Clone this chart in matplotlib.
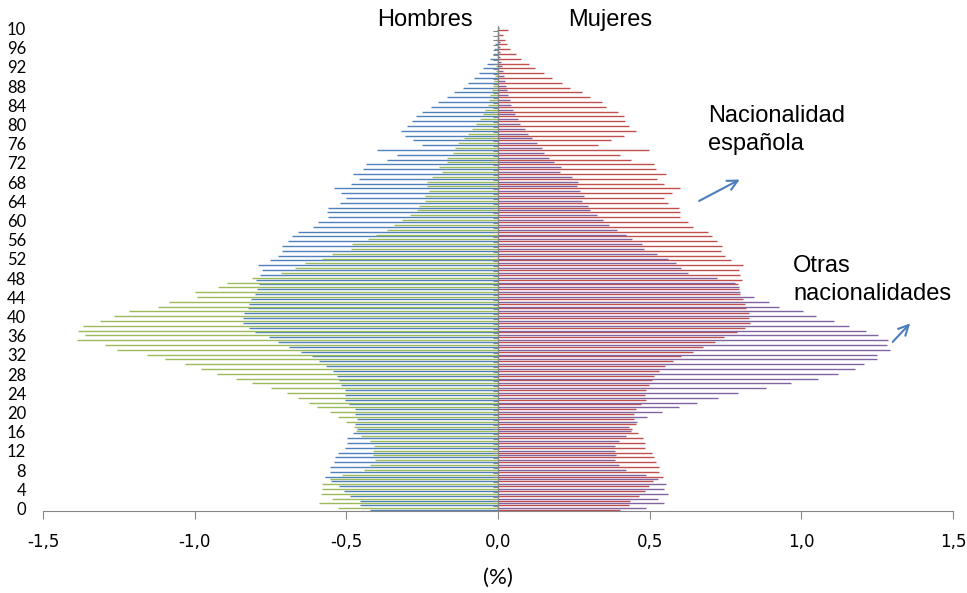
import numpy as np
import matplotlib
matplotlib.use("Agg")
import matplotlib.pyplot as plt

# edades 0..100
ages = np.arange(101)

# % de poblacion por edad
hombres_esp = np.array([
    0.422, 0.455, 0.455, 0.488, 0.508, 0.524, 0.550, 0.570, 0.554, 0.554,
    0.541, 0.537, 0.527, 0.506, 0.499, 0.499, 0.479, 0.466, 0.473, 0.466,
    0.470, 0.473, 0.492, 0.506, 0.503, 0.506, 0.516, 0.523, 0.530, 0.543,
    0.567, 0.590, 0.613, 0.649, 0.689, 0.725, 0.755, 0.801, 0.821, 0.841,
    0.841, 0.838, 0.824, 0.821, 0.815, 0.801, 0.795, 0.788, 0.798, 0.784,
    0.777, 0.791, 0.752, 0.725, 0.712, 0.712, 0.692, 0.679, 0.659, 0.610,
    0.593, 0.560, 0.564, 0.560, 0.521, 0.501, 0.518, 0.540, 0.485, 0.458,
    0.478, 0.445, 0.435, 0.366, 0.333, 0.400, 0.250, 0.280, 0.307, 0.320,
    0.300, 0.283, 0.270, 0.250, 0.221, 0.198, 0.168, 0.145, 0.115, 0.099,
    0.079, 0.063, 0.050, 0.036, 0.026, 0.018, 0.013, 0.010, 0.006, 0.004,
    0.003])

hombres_ext = np.array([
    0.527, 0.590, 0.547, 0.584, 0.580, 0.580, 0.554, 0.514, 0.442, 0.422,
    0.405, 0.412, 0.412, 0.409, 0.422, 0.452, 0.468, 0.475, 0.501, 0.527,
    0.554, 0.597, 0.623, 0.659, 0.696, 0.748, 0.811, 0.864, 0.926, 0.979,
    1.032, 1.098, 1.157, 1.256, 1.295, 1.388, 1.362, 1.385, 1.368, 1.312,
    1.266, 1.217, 1.121, 1.084, 0.992, 0.999, 0.923, 0.893, 0.811, 0.715,
    0.669, 0.636, 0.580, 0.547, 0.485, 0.481, 0.429, 0.402, 0.366, 0.343,
    0.316, 0.290, 0.267, 0.261, 0.241, 0.241, 0.228, 0.234, 0.234, 0.218,
    0.185, 0.195, 0.168, 0.168, 0.149, 0.142, 0.132, 0.112, 0.099, 0.086,
    0.073, 0.059, 0.049, 0.043, 0.033, 0.030, 0.025, 0.020, 0.016, 0.013,
    0.010, 0.008, 0.006, 0.004, 0.004, 0.003, 0.003, 0.002, 0.002, 0.001,
    0.001])

mujeres_esp = np.array([
    0.402, 0.432, 0.435, 0.465, 0.485, 0.498, 0.511, 0.544, 0.531, 0.531,
    0.521, 0.514, 0.508, 0.485, 0.485, 0.478, 0.462, 0.442, 0.455, 0.448,
    0.448, 0.455, 0.471, 0.488, 0.485, 0.488, 0.498, 0.508, 0.514, 0.531,
    0.551, 0.577, 0.603, 0.643, 0.676, 0.715, 0.745, 0.788, 0.814, 0.831,
    0.827, 0.827, 0.818, 0.814, 0.808, 0.798, 0.795, 0.791, 0.804, 0.798,
    0.795, 0.808, 0.768, 0.748, 0.735, 0.739, 0.722, 0.705, 0.692, 0.643,
    0.626, 0.600, 0.600, 0.597, 0.560, 0.547, 0.574, 0.600, 0.546, 0.524,
    0.554, 0.521, 0.514, 0.438, 0.402, 0.498, 0.330, 0.373, 0.415, 0.455,
    0.432, 0.419, 0.415, 0.396, 0.356, 0.343, 0.303, 0.277, 0.237, 0.211,
    0.178, 0.152, 0.122, 0.102, 0.076, 0.059, 0.040, 0.030, 0.023, 0.016,
    0.032])

mujeres_ext = np.array([
    0.488, 0.547, 0.527, 0.560, 0.547, 0.554, 0.527, 0.488, 0.422, 0.399,
    0.385, 0.389, 0.385, 0.385, 0.399, 0.422, 0.438, 0.432, 0.458, 0.491,
    0.541, 0.597, 0.656, 0.725, 0.791, 0.884, 0.966, 1.055, 1.121, 1.177,
    1.207, 1.249, 1.249, 1.292, 1.282, 1.286, 1.253, 1.213, 1.157, 1.108,
    1.048, 1.006, 0.926, 0.893, 0.844, 0.798, 0.795, 0.781, 0.722, 0.626,
    0.603, 0.587, 0.560, 0.524, 0.481, 0.475, 0.442, 0.422, 0.392, 0.366,
    0.346, 0.326, 0.303, 0.297, 0.277, 0.283, 0.270, 0.260, 0.264, 0.244,
    0.204, 0.208, 0.185, 0.168, 0.152, 0.145, 0.129, 0.112, 0.099, 0.089,
    0.073, 0.066, 0.056, 0.049, 0.043, 0.040, 0.033, 0.030, 0.026, 0.023,
    0.020, 0.016, 0.013, 0.010, 0.008, 0.007, 0.006, 0.005, 0.004, 0.003,
    0.003])

xticks = [-1.5, -1.0, -0.5, 0.0, 0.5, 1.0, 1.5]
xticklabels = ["-1,5", "-1,0", "-0,5", "0,0", "0,5", "1,0", "1,5"]
yticks = list(range(0, 100, 4)) + [100]
yticklabels = [str(a) for a in range(0, 100, 4)] + ["10"]

azul = "#4F81BD"
verde = "#9BBB59"
rojo = "#C0504D"
morado = "#8064A2"
gris = "#868686"

fig = plt.figure(figsize=(9.67, 5.93), dpi=100)
ax = fig.add_axes([43 / 967, 1 - 511 / 593, 910 / 967, 485 / 593])

# barras finas, una linea por edad y serie
lw = 1.0
ax.hlines(ages - 0.32, -hombres_esp, 0, color=azul, lw=lw)
ax.hlines(ages + 0.08, -hombres_ext, 0, color=verde, lw=lw)
ax.hlines(ages - 0.32, 0, mujeres_esp, color=rojo, lw=lw)
ax.hlines(ages + 0.08, 0, mujeres_ext, color=morado, lw=lw)

# eje vertical central con sus marcas
ax.axvline(0, color=gris, lw=0.9, zorder=3)
ax.hlines(ages - 0.5, -0.017, 0, color=gris, lw=0.8, zorder=3)

ax.set_xlim(-1.5, 1.5)
ax.set_ylim(-0.5, 100.5)
for s in ["top", "right", "left"]:
    ax.spines[s].set_visible(False)
ax.spines["bottom"].set_color(gris)

ax.set_xticks(xticks)
ax.set_xticklabels(xticklabels, fontsize=12, family="Liberation Sans Narrow")
ax.tick_params(axis="x", direction="out", length=6, color=gris, pad=10)
ax.set_yticks(yticks)
ax.set_yticklabels(yticklabels, fontsize=12, family="Lato")
ax.tick_params(axis="y", length=0, pad=12)
ax.set_xlabel("(%)", fontsize=16, family="Lato", labelpad=12)

fig.text(425 / 967, 1 - 20 / 593, "Hombres", ha="center", va="center",
         fontsize=17, family="Liberation Sans")
fig.text(610 / 967, 1 - 20 / 593, "Mujeres", ha="center", va="center",
         fontsize=17, family="Liberation Sans")
fig.text(708 / 967, 1 - 130 / 593, "Nacionalidad\nespañola", ha="left",
         va="center", fontsize=17, family="Liberation Sans", linespacing=1.3)
fig.text(793 / 967, 1 - 280 / 593, "Otras\nnacionalidades", ha="left",
         va="center", fontsize=17, family="Liberation Sans", linespacing=1.3)

flecha = dict(arrowstyle="->", color="#4A7EBB", lw=1.5, mutation_scale=18)
ax.annotate("", xy=(0.805, 68.8), xytext=(0.655, 63.8), arrowprops=flecha)
ax.annotate("", xy=(1.365, 39.0), xytext=(1.295, 34.3), arrowprops=flecha)

fig.savefig("out.png", dpi=100)
